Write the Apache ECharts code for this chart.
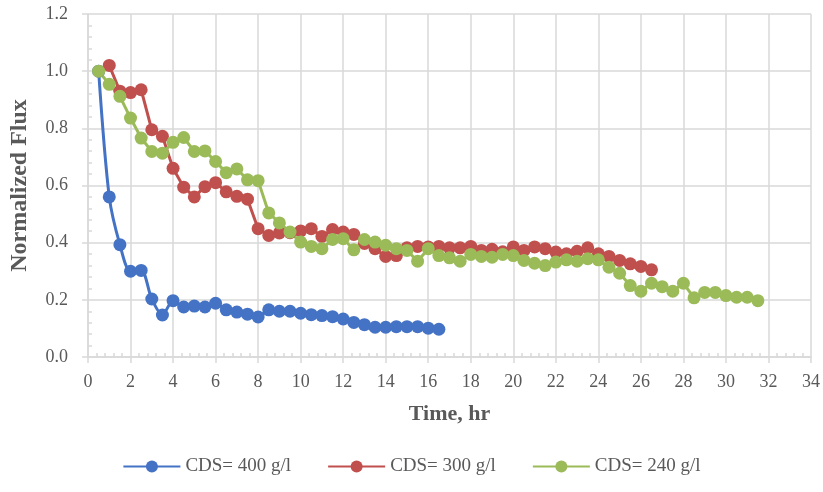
<!DOCTYPE html>
<html>
<head>
<meta charset="utf-8">
<script src="https://cdn.jsdelivr.net/npm/echarts@6/dist/echarts.min.js"></script>
<style>
  html, body { margin: 0; padding: 0; background: #fff; }
  #chart { width: 823px; height: 492px; }
</style>
</head>
<body>
<div id="chart"></div>
<script>
// CDS= 400 g/l
const timeBlue = [0.5, 1, 1.5, 2, 2.5, 3, 3.5, 4, 4.5, 5, 5.5, 6, 6.5, 7, 7.5, 8, 8.5, 9, 9.5, 10,
  10.5, 11, 11.5, 12, 12.5, 13, 13.5, 14, 14.5, 15, 15.5, 16, 16.5];
const fluxBlue = [1.0, 0.56, 0.393, 0.30, 0.303, 0.203, 0.147, 0.197, 0.175, 0.178, 0.175, 0.188, 0.165,
  0.157, 0.150, 0.140, 0.165, 0.160, 0.160, 0.153, 0.148, 0.145, 0.141, 0.133, 0.121, 0.113, 0.104,
  0.104, 0.106, 0.106, 0.106, 0.101, 0.097];

// CDS= 300 g/l
const timeRed = [1, 1.5, 2, 2.5, 3, 3.5, 4, 4.5, 5, 5.5, 6, 6.5, 7, 7.5, 8, 8.5, 9, 9.5, 10, 10.5,
  11, 11.5, 12, 12.5, 13, 13.5, 14, 14.5, 15, 15.5, 16, 16.5, 17, 17.5, 18, 18.5, 19, 19.5, 20, 20.5,
  21, 21.5, 22, 22.5, 23, 23.5, 24, 24.5, 25, 25.5, 26, 26.5];
const fluxRed = [1.02, 0.93, 0.925, 0.935, 0.795, 0.772, 0.66, 0.594, 0.56, 0.596, 0.61, 0.578, 0.562,
  0.552, 0.449, 0.425, 0.434, 0.435, 0.441, 0.449, 0.422, 0.446, 0.437, 0.429, 0.397, 0.379, 0.352,
  0.355, 0.382, 0.387, 0.385, 0.387, 0.382, 0.382, 0.387, 0.373, 0.377, 0.368, 0.385, 0.373, 0.385,
  0.379, 0.367, 0.361, 0.370, 0.382, 0.361, 0.352, 0.338, 0.326, 0.317, 0.305];

// CDS= 240 g/l
const timeGreen = [0.5, 1, 1.5, 2, 2.5, 3, 3.5, 4, 4.5, 5, 5.5, 6, 6.5, 7, 7.5, 8, 8.5, 9, 9.5, 10,
  10.5, 11, 11.5, 12, 12.5, 13, 13.5, 14, 14.5, 15, 15.5, 16, 16.5, 17, 17.5, 18, 18.5, 19, 19.5, 20,
  20.5, 21, 21.5, 22, 22.5, 23, 23.5, 24, 24.5, 25, 25.5, 26, 26.5, 27, 27.5, 28, 28.5, 29, 29.5, 30,
  30.5, 31, 31.5];
const fluxGreen = [1.0, 0.954, 0.912, 0.836, 0.766, 0.719, 0.713, 0.751, 0.768, 0.719, 0.721, 0.684,
  0.645, 0.658, 0.62, 0.617, 0.504, 0.469, 0.437, 0.402, 0.387, 0.379, 0.411, 0.414, 0.375, 0.411,
  0.402, 0.391, 0.379, 0.373, 0.335, 0.379, 0.355, 0.347, 0.335, 0.359, 0.352, 0.349, 0.359, 0.355,
  0.338, 0.328, 0.320, 0.332, 0.340, 0.335, 0.344, 0.340, 0.314, 0.293, 0.250, 0.230, 0.258, 0.246,
  0.230, 0.258, 0.207, 0.226, 0.226, 0.215, 0.209, 0.209, 0.197];

const seriesNames = ['CDS= 400 g/l', 'CDS= 300 g/l', 'CDS= 240 g/l'];
const seriesColors = ['#4472C4', '#C0504D', '#9BBB59'];

const zip = (xs, ys) => xs.map((x, i) => [x, ys[i]]);

const FONT = '"Liberation Serif", "Times New Roman", serif';
const TEXT = '#595959';
const GRID = '#d9d9d9';

const lineSeries = (idx, data, smooth) => ({
  name: seriesNames[idx],
  type: 'line',
  data: data,
  smooth: smooth,
  symbol: 'circle',
  symbolSize: 13,
  lineStyle: { color: seriesColors[idx], width: 3 },
  itemStyle: { color: seriesColors[idx] },
  emphasis: { disabled: true }
});

const chart = echarts.init(document.getElementById('chart'));
chart.setOption({
  animation: false,
  backgroundColor: '#fff',
  grid: { left: 88, right: 10, top: 14, bottom: 135, containLabel: false },
  legend: {
    top: 452,
    left: 'center',
    itemWidth: 57,
    itemHeight: 15,
    itemGap: 36,
    textStyle: { fontFamily: FONT, fontSize: 19, color: TEXT },
    data: seriesNames
  },
  xAxis: {
    type: 'value',
    min: 0,
    max: 34,
    interval: 2,
    name: 'Time, hr',
    nameLocation: 'middle',
    nameGap: 46,
    nameTextStyle: { fontFamily: FONT, fontSize: 22, fontWeight: 'bold', color: TEXT },
    axisLine: { show: true, lineStyle: { color: GRID, width: 1.5 } },
    axisTick: { show: true, length: 6, lineStyle: { color: GRID, width: 1.5 } },
    minorTick: { show: true, splitNumber: 5, length: -4, lineStyle: { color: GRID, width: 1.5 } },
    axisLabel: { fontFamily: FONT, fontSize: 18, color: TEXT, margin: 16 },
    splitLine: { show: true, lineStyle: { color: GRID, width: 1.5 } }
  },
  yAxis: {
    type: 'value',
    min: 0,
    max: 1.2,
    interval: 0.2,
    name: 'Normalized Flux',
    nameLocation: 'middle',
    nameGap: 56,
    nameTextStyle: { fontFamily: FONT, fontSize: 24, fontWeight: 'bold', color: TEXT },
    axisLine: { show: true, lineStyle: { color: GRID, width: 1.5 } },
    axisTick: { show: true, length: 6, lineStyle: { color: GRID, width: 1.5 } },
    minorTick: { show: true, splitNumber: 5, length: -4, lineStyle: { color: GRID, width: 1.5 } },
    axisLabel: {
      fontFamily: FONT, fontSize: 18, color: TEXT, margin: 20,
      formatter: v => v.toFixed(1)
    },
    splitLine: { show: true, lineStyle: { color: GRID, width: 1.5 } }
  },
  series: [
    lineSeries(0, zip(timeBlue, fluxBlue), 0.3),
    lineSeries(1, zip(timeRed, fluxRed), false),
    lineSeries(2, zip(timeGreen, fluxGreen), false)
  ]
});
</script>
</body>
</html>
